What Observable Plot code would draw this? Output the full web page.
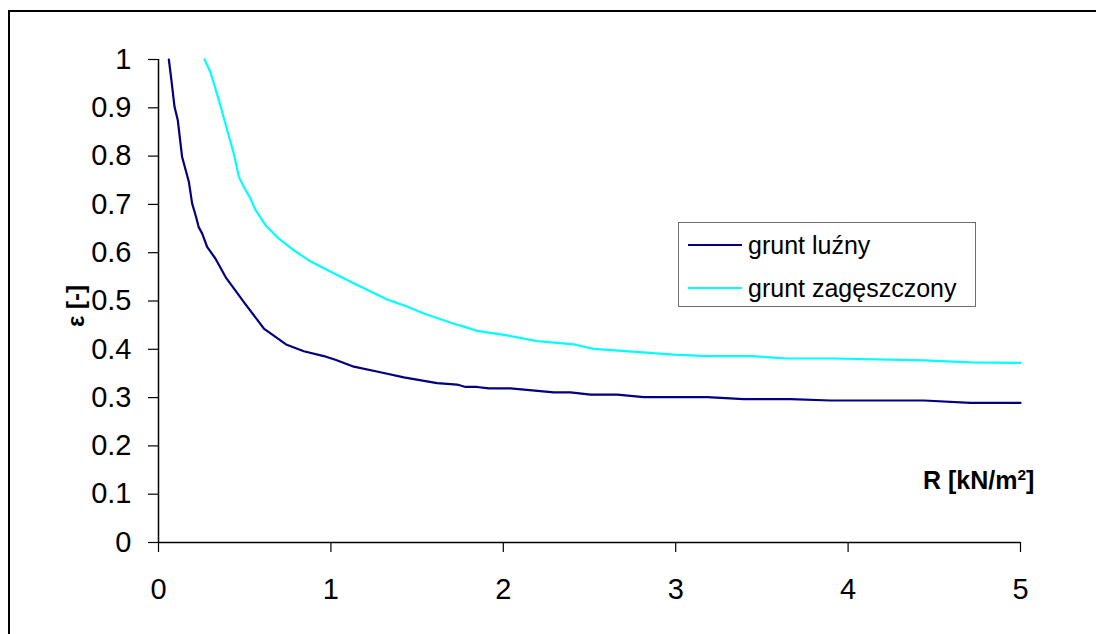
<!DOCTYPE html>
<html>
<head>
<meta charset="utf-8">
<script src="https://cdn.jsdelivr.net/npm/d3@7"></script>
<script src="https://cdn.jsdelivr.net/npm/@observablehq/plot@0.6"></script>
<style>
  html, body { margin: 0; padding: 0; background: #fff; overflow: hidden; }
  #wrap { position: relative; width: 1096px; height: 634px; overflow: hidden; font-family: "Liberation Sans", Arial, sans-serif; color: #000; }
  #frame { position: absolute; left: 8px; top: 10px; width: 1100px; height: 640px; border: 2px solid #000; box-sizing: border-box; pointer-events: none; }
  #chart { position: absolute; left: 0; top: 0; }
  .title { position: absolute; font-weight: bold; white-space: nowrap; line-height: 1; }
  #legend { position: absolute; left: 678px; top: 222px; width: 298px; height: 85px; border: 1px solid #6e6e6e; box-sizing: border-box; background: #fff; }
  .entry { position: absolute; left: 9px; height: 30px; display: flex; align-items: center; font-size: 25px; white-space: nowrap; }
  .swatch { width: 54px; height: 2px; margin-right: 6px; }
</style>
</head>
<body>
<div id="wrap">
  <div id="chart"></div>
  <div id="frame"></div>
  <div class="title" id="ytitle" style="left:76px; top:306px; font-size:24px; transform: translate(-50%,-50%) rotate(-90deg);">ε [-]</div>
  <div class="title" id="xtitle" style="left:923px; top:468px; font-size:25px;">R [kN/m<sup style="font-size:0.62em; vertical-align:0.55em; line-height:0;">2</sup>]</div>
  <div id="legend"></div>
</div>
<script>
// Series: soil strain ε versus load R for loose and compacted soil
const seriesNames = ["grunt luźny", "grunt zagęszczony"];
const seriesColors = ["#000080", "#00ffff"];

const rLuzny = [0.06, 0.074, 0.093, 0.112, 0.137, 0.176, 0.195, 0.218, 0.233, 0.253, 0.282, 0.33, 0.39, 0.505, 0.611, 0.74, 0.843, 0.959, 1.03, 1.133, 1.307, 1.423, 1.616, 1.732, 1.781, 1.848, 1.916, 2.042, 2.293, 2.39, 2.506, 2.661, 2.815, 3.182, 3.395, 3.666, 3.898, 4.44, 4.71, 5.0];
const epsLuzny = [1.0, 0.96, 0.902, 0.874, 0.798, 0.747, 0.702, 0.674, 0.653, 0.64, 0.612, 0.588, 0.549, 0.493, 0.443, 0.41, 0.396, 0.386, 0.378, 0.364, 0.351, 0.342, 0.33, 0.327, 0.322, 0.322, 0.319, 0.319, 0.311, 0.311, 0.306, 0.306, 0.301, 0.301, 0.297, 0.297, 0.294, 0.294, 0.289, 0.289];

const rZag = [0.267, 0.302, 0.35, 0.398, 0.437, 0.466, 0.495, 0.534, 0.563, 0.621, 0.698, 0.785, 0.872, 0.979, 1.114, 1.326, 1.423, 1.539, 1.713, 1.781, 1.848, 2.003, 2.197, 2.409, 2.525, 2.989, 3.182, 3.434, 3.647, 3.917, 4.44, 4.71, 5.0];
const epsZag = [1.0, 0.973, 0.916, 0.854, 0.805, 0.757, 0.736, 0.712, 0.688, 0.657, 0.629, 0.605, 0.584, 0.564, 0.54, 0.503, 0.491, 0.474, 0.453, 0.446, 0.438, 0.43, 0.417, 0.41, 0.401, 0.389, 0.386, 0.386, 0.381, 0.381, 0.377, 0.373, 0.372];

const xTicks = [0, 1, 2, 3, 4, 5];
const yTicks = [0, 0.1, 0.2, 0.3, 0.4, 0.5, 0.6, 0.7, 0.8, 0.9, 1];

const rows = [
  ...rLuzny.map((r, i) => ({series: seriesNames[0], r, eps: epsLuzny[i]})),
  ...rZag.map((r, i) => ({series: seriesNames[1], r, eps: epsZag[i]}))
];

const fmt = d => String(+d.toFixed(1));

const chart = Plot.plot({
  width: 1096,
  height: 634,
  marginLeft: 158,
  marginRight: 76,
  marginTop: 59,
  marginBottom: 92,
  style: {fontFamily: "'Liberation Sans', Arial, sans-serif", color: "#000", background: "transparent"},
  x: {domain: [0, 5]},
  y: {domain: [0, 1]},
  color: {domain: seriesNames, range: seriesColors},
  marks: [
    Plot.axisY({ticks: yTicks, tickFormat: fmt, tickSize: 10, tickPadding: 17, fontSize: 29, label: null, stroke: "#000", strokeWidth: 1.2}),
    Plot.axisX({ticks: xTicks, tickFormat: fmt, tickSize: 10, tickPadding: 26, fontSize: 29, label: null, stroke: "#000", strokeWidth: 1.2}),
    Plot.ruleX([0], {stroke: "#000", strokeWidth: 1.5}),
    Plot.ruleY([0], {stroke: "#000", strokeWidth: 1.5}),
    Plot.line(rows, {x: "r", y: "eps", z: "series", stroke: "series", strokeWidth: 2.2})
  ]
});
document.getElementById("chart").appendChild(chart);

// Legend box
const legend = document.getElementById("legend");
const entryTops = [7, 50];
seriesNames.forEach((name, i) => {
  const e = document.createElement("div");
  e.className = "entry";
  e.style.top = entryTops[i] + "px";
  const sw = document.createElement("div");
  sw.className = "swatch";
  sw.style.background = seriesColors[i];
  const t = document.createElement("span");
  t.textContent = name;
  e.appendChild(sw);
  e.appendChild(t);
  legend.appendChild(e);
});
</script>
</body>
</html>
